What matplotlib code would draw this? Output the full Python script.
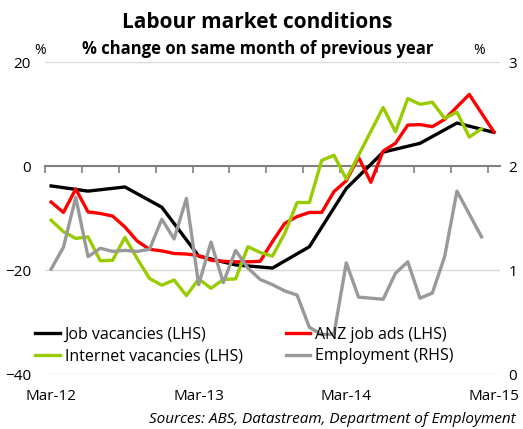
import numpy as np
import matplotlib
matplotlib.use("Agg")
import matplotlib.pyplot as plt

plt.rcParams['font.family'] = ['Open Sans', 'DejaVu Sans']

# months since Mar-12 (0 = Mar-12, 36 = Mar-15)
tick_labels = ['Mar-12', 'Mar-13', 'Mar-14', 'Mar-15']

# job vacancies are quarterly
job_vac = [-3.8, -4.8, -4.0, -7.9, -17.3, -19.0, -19.6, -15.5, -4.3, 2.7, 4.4, 8.3, 6.5]

anz_ads = [-6.9, -8.9, -4.4, -8.8, -9.1, -9.6, -11.7, -14.4, -16.0, -16.3,
           -16.8, -16.9, -17.2, -18.1, -18.3, -18.4, -18.4, -18.3, -14.5, -11.0,
           -9.7, -8.9, -8.9, -4.9, -2.8, 1.7, -3.1, 2.9, 4.4, 7.9,
           8.0, 7.6, 9.0, 11.4, 13.8, 10.2, 6.6]

internet_vac = [-10.4, -12.6, -13.9, -13.6, -18.2, -18.1, -13.7, -17.8, -21.6, -22.9,
                -21.9, -24.9, -21.7, -23.5, -21.8, -21.7, -15.5, -16.6, -17.3, -12.9,
                -7.0, -7.0, 1.1, 2.1, -2.5, 2.1, 6.7, 11.3, 6.6, 13.0,
                11.9, 12.3, 9.2, 10.4, 5.6, 7.2]

employment = [1.01, 1.22, 1.70, 1.13, 1.21, 1.18, 1.19, 1.18, 1.20, 1.49,
              1.30, 1.69, 0.86, 1.27, 0.88, 1.19, 1.02, 0.91, 0.86, 0.80,
              0.76, 0.45, 0.38, 0.385, 1.07, 0.74, 0.73, 0.72, 0.97, 1.08,
              0.73, 0.78, 1.13, 1.76, 1.54, 1.32]

x_q = np.arange(len(job_vac)) * 3
x_anz = np.arange(len(anz_ads))
x_int = np.arange(len(internet_vac))
x_emp = np.arange(len(employment))

fig = plt.figure(figsize=(5.23, 4.29), dpi=100)
ax = fig.add_axes([0.086, 0.128, 0.870, 0.727])
ax2 = ax.twinx()

l1, = ax.plot(x_q, job_vac, color='black', lw=2.4, zorder=3, label='Job vacancies (LHS)')
l2, = ax.plot(x_anz, anz_ads, color='#ff0000', lw=2.4, zorder=3, label='ANZ job ads (LHS)')
l3, = ax.plot(x_int, internet_vac, color='#99cc00', lw=2.4, zorder=3, label='Internet vacancies (LHS)')
l4, = ax2.plot(x_emp, employment, color='#999999', lw=2.4, label='Employment (RHS)')

ax.set_xlim(-0.5, 36.5)
ax.set_ylim(-40, 20)
ax2.set_ylim(0, 3)

# horizontal grid
for yv in [20, -20, -40]:
    ax.axhline(yv, color='#d9d9d9', lw=1, zorder=0)

for s in ['top', 'left', 'right']:
    ax.spines[s].set_visible(False)
for s in ax2.spines.values():
    s.set_visible(False)

# zero line with quarterly tick marks
ax.spines['bottom'].set_position(('data', 0))
ax.spines['bottom'].set_color('#808080')
ax.spines['bottom'].set_linewidth(1.5)
ax.set_xticks(np.arange(-0.5, 37, 3))
ax.tick_params(axis='x', direction='out', length=5, width=1.2, color='#808080', labelbottom=False)

sec = ax.secondary_xaxis('bottom')
sec.set_xticks([0, 12, 24, 36], tick_labels)
sec.tick_params(length=0, pad=11, labelsize=11)
sec.spines['bottom'].set_visible(False)

ax.set_yticks([-40, -20, 0, 20])
ax.tick_params(axis='y', length=0, pad=10, labelsize=11)
ax2.set_yticks([0, 1, 2, 3])
ax2.tick_params(axis='y', length=0, pad=6, labelsize=11)

fig.text(0.066, 0.875, '%', fontsize=10)
fig.text(0.905, 0.875, '%', fontsize=10)

fig.text(0.492, 0.935, 'Labour market conditions', ha='center', fontsize=15, fontweight='bold')
fig.text(0.493, 0.875, '% change on same month of previous year', ha='center', fontsize=12, fontweight='bold')

ax2.legend([l1, l3, l2, l4], [l1.get_label(), l3.get_label(), l2.get_label(), l4.get_label()],
           ncol=2, frameon=False, fontsize=11.5, handlelength=1.55, handletextpad=0.3,
           columnspacing=2.7, labelspacing=0.35, borderpad=0, borderaxespad=0,
           loc='upper left', bbox_to_anchor=(0.067, 0.238), bbox_transform=fig.transFigure)

fig.text(0.985, 0.021, 'Sources: ABS, Datastream, Department of Employment',
         ha='right', va='center', fontsize=11, style='italic')

fig.savefig('out.png', dpi=100)
